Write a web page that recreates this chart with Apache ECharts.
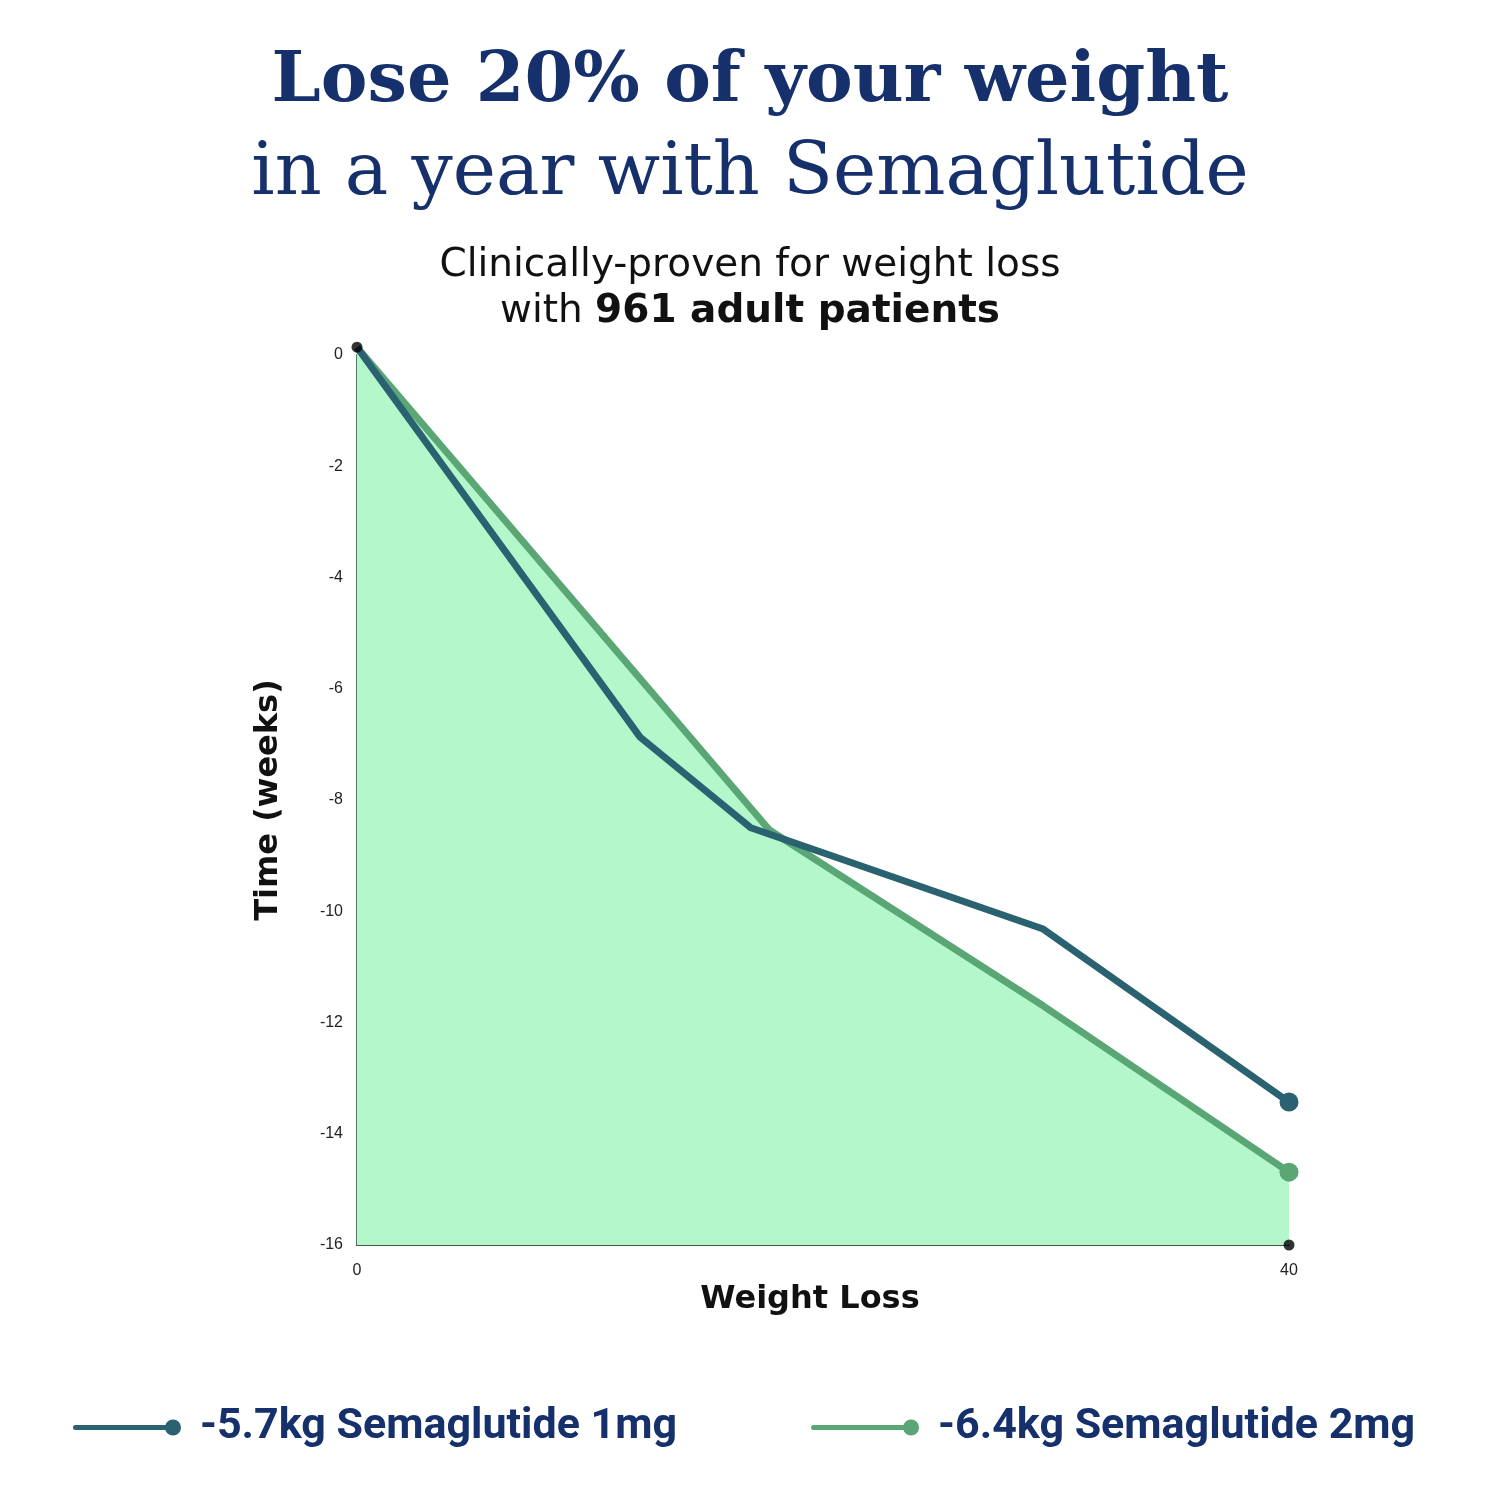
<!DOCTYPE html>
<html>
<head>
<meta charset="utf-8">
<script src="https://cdn.jsdelivr.net/npm/echarts@6/dist/echarts.min.js"></script>
<style>
html,body{margin:0;padding:0;background:#fff;}
#c{width:1500px;height:1500px;}
</style>
</head>
<body>
<div id="c"></div>
<script>
// ---- data ----
var seriesNames = ['-5.7kg Semaglutide 1mg', '-6.4kg Semaglutide 2mg'];
var weightLoss1mg = [0, 12.15, 16.9, 29.45, 40];
var dose1mg = [0.14, -6.87, -8.5, -10.32, -13.43];
var weightLoss2mg = [0, 17.7, 29.45, 40];
var dose2mg = [0.14, -8.54, -11.7, -14.69];
var anchorX = [0, 40];
var anchorY = [0.14, -16];
var xTicks = [0, 40];
var yTicks = [0, -2, -4, -6, -8, -10, -12, -14, -16];

var navy = '#16306c';
var blue = '#2b6272';
var green = '#5aa674';

function pairs(xs, ys) { return xs.map(function (x, i) { return [x, ys[i]]; }); }
function lastOnly(xs, ys, size) {
  return xs.map(function (x, i) {
    return { value: [x, ys[i]], symbolSize: i === xs.length - 1 ? size : 0 };
  });
}

var legendIcon = 'path://M2.5,5.5 L96,5.5 L96,10.5 L2.5,10.5 A2.5,2.5 0 0 1 2.5,5.5 Z M92,8 A8,8 0 1 1 108,8 A8,8 0 1 1 92,8 Z';

var chart = echarts.init(document.getElementById('c'), null, { renderer: 'canvas' });
chart.setOption({
  backgroundColor: '#ffffff',
  animation: false,
  title: [
    {
      text: 'Lose 20% of your weight',
      left: 'center', top: 43,
      textStyle: { fontFamily: 'DejaVu Serif', fontWeight: 'bold', fontSize: 70, color: navy }
    },
    {
      text: 'in a year with Semaglutide',
      left: 'center', top: 134,
      textStyle: { fontFamily: 'DejaVu Serif', fontWeight: 'normal', fontSize: 73, color: navy }
    }
  ],
  graphic: [
    {
      type: 'text', x: 750, y: 243, silent: true,
      style: {
        text: 'Clinically-proven for weight loss\n{n|with }{b|961 adult patients}',
        align: 'center', verticalAlign: 'top',
        fontFamily: 'DejaVu Sans', fontSize: 39, fill: '#111', lineHeight: 46,
        rich: {
          n: { fontFamily: 'DejaVu Sans', fontSize: 39, fill: '#111', lineHeight: 46 },
          b: { fontFamily: 'DejaVu Sans', fontWeight: 'bold', fontSize: 39, fill: '#111', lineHeight: 46 }
        }
      }
    }
  ],
  legend: {
    bottom: 46,
    left: 68,
    itemWidth: 108,
    itemHeight: 16,
    itemGap: 134,
    icon: legendIcon,
    itemStyle: { borderWidth: 0 },
    data: seriesNames,
    textStyle: { fontFamily: 'Roboto', fontWeight: 'bold', fontSize: 43, color: navy, padding: [0, 0, 0, 14] }
  },
  grid: { left: 357, right: 211, top: 355, bottom: 255, containLabel: false },
  xAxis: {
    type: 'value', min: 0, max: 40, interval: 40,
    name: 'Weight Loss', nameLocation: 'middle', nameGap: 35,
    nameTextStyle: { fontFamily: 'DejaVu Sans', fontWeight: 'bold', fontSize: 32, color: '#111', padding: [0, 26, 0, 0] },
    axisLine: { show: true, onZero: false, lineStyle: { color: '#3d5749', width: 2 } },
    axisTick: { show: false },
    splitLine: { show: false },
    axisLabel: { fontFamily: 'Liberation Sans', fontSize: 16, color: '#222', margin: 18 }
  },
  yAxis: {
    type: 'value', min: -16, max: 0, interval: 2,
    name: 'Time (weeks)', nameLocation: 'middle', nameGap: 72, nameRotate: 90,
    nameTextStyle: { fontFamily: 'DejaVu Sans', fontWeight: 'bold', fontSize: 32, color: '#111' },
    axisLine: { show: true, onZero: false, lineStyle: { color: '#4d7a5f', width: 2 } },
    axisTick: { show: false },
    splitLine: { show: false },
    axisLabel: { fontFamily: 'Liberation Sans', fontSize: 16, color: '#222', margin: 14 }
  },
  series: [
    {
      name: seriesNames[1], type: 'line', clip: false, z: 2,
      data: lastOnly(weightLoss2mg, dose2mg, 19),
      symbol: 'circle', showSymbol: true,
      lineStyle: { color: green, width: 7 },
      itemStyle: { color: green },
      areaStyle: { color: '#b3f7cb', opacity: 1, origin: 'start' }
    },
    {
      name: seriesNames[0], type: 'line', clip: false, z: 3,
      data: lastOnly(weightLoss1mg, dose1mg, 19),
      symbol: 'circle', showSymbol: true,
      lineStyle: { color: blue, width: 7 },
      itemStyle: { color: blue }
    },
    {
      type: 'scatter', clip: false, z: 5, silent: true,
      data: pairs(anchorX, anchorY),
      symbolSize: 11,
      itemStyle: { color: '#000' }
    }
  ]
});
</script>
</body>
</html>
